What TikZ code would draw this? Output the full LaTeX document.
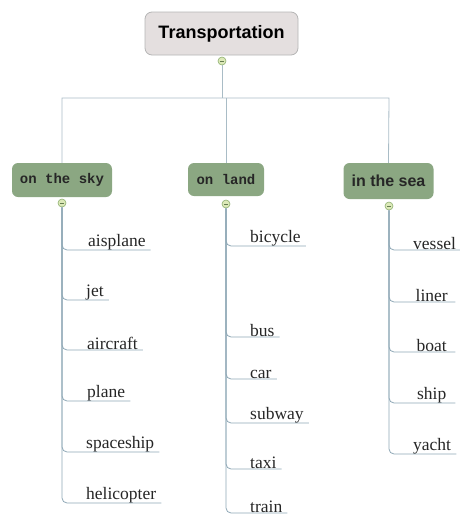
\documentclass[tikz,border=0pt]{standalone}
\usepackage{fontspec}
\setmainfont{Liberation Serif}
\newfontfamily\rootfont{Liberation Sans}
\newfontfamily\monofont{Liberation Mono}
\definecolor{rootfill}{HTML}{E4DFDF}
\definecolor{rootdraw}{HTML}{B5B5B5}
\definecolor{greenfill}{HTML}{8BA782}
\definecolor{linecol}{HTML}{A9BCC6}
\definecolor{ulcol}{HTML}{8FA8B6}
\definecolor{knobfill}{HTML}{DCE9B8}
\definecolor{knobdraw}{HTML}{8FB072}
\tikzset{
  rootbox/.style={draw=rootdraw, fill=rootfill, rounded corners=7pt, line width=0.8pt,
    minimum width=153pt, minimum height=43pt, font=\rootfont\bfseries\fontsize{18}{21}\selectfont, inner sep=0pt},
  catbox/.style={fill=greenfill, rounded corners=6pt, inner sep=0pt, text=black!85},
  monocat/.style={catbox, font=\monofont\bfseries\fontsize{14}{16}\selectfont},
  sanscat/.style={catbox, font=\rootfont\bfseries\fontsize{16}{18}\selectfont},
  knob/.style={circle, draw=knobdraw, fill=knobfill, line width=0.6pt, minimum size=8pt, inner sep=0pt,
    path picture={\draw[knobdraw!70!black, line width=0.8pt] ([xshift=-2pt]path picture bounding box.center) -- ([xshift=2pt]path picture bounding box.center);}},
  leaf/.style={anchor=south west, inner xsep=5pt, inner ysep=0pt, font=\fontsize{17.5}{20}\selectfont, text=black!85},
  conn/.style={draw=linecol, line width=0.8pt},
  branch/.style={draw=ulcol, line width=0.8pt, rounded corners=5pt},
}
\begin{document}
\begin{tikzpicture}[x=1pt,y=-1pt]
\useasboundingbox (0,0) rectangle (460,515);
% root
\node[rootbox] (root) at (221.5,33.5) {Transportation};
\node[knob] (kr) at (222,61) {};
% categories
\node[monocat, minimum width=100pt, minimum height=34pt] (sky) at (62,180) {on the sky};
\node[monocat, minimum width=76pt, minimum height=33pt] (land) at (226,179.5) {on land};
\node[sanscat, minimum width=90pt, minimum height=36pt] (sea) at (388.5,181) {in the sea};
\node[knob] (ks) at (62,203) {};
\node[knob] (kl) at (226,204) {};
\node[knob] (ke) at (389,206) {};
\coordinate (hl) at (62,98);
\coordinate (hm) at (222,98);
\coordinate (hr) at (389,98);
\draw[conn] (kr.south) -- (hm);
\draw[conn] (sky.north) -- (hl) -- (hr) -- (sea.north);
\draw[conn] (226,98) -- (land.north);
% sky leaves
\node[leaf] (s1) at (83,250) {aisplane};
\node[leaf] (s2) at (81,300) {jet};
\node[leaf] (s3) at (82,350) {aircraft};
\node[leaf] (s4) at (82,401) {plane};
\node[leaf] (s5) at (81,452) {spaceship};
\node[leaf] (s6) at (81,503) {helicopter};
\foreach \n in {s1,s2,s3,s4,s5,s6} \draw[branch] (ks.south) |- (\n.south east);
% land leaves
\node[leaf] (l1) at (245,246) {bicycle};
\node[leaf] (l2) at (245,337) {bus};
\node[leaf] (l3) at (245,379) {car};
\node[leaf] (l4) at (245,423) {subway};
\node[leaf] (l5) at (245,469) {taxi};
\node[leaf] (l6) at (245,513) {train};
\foreach \n in {l1,l2,l3,l4,l5,l6} \draw[branch] (kl.south) |- (\n.south east);
% sea leaves
\node[leaf, minimum width=47pt] (e1) at (408,250) {vessel};
\node[leaf, minimum width=47pt] (e2) at (408,302) {liner};
\node[leaf, minimum width=47pt] (e3) at (408,352) {boat};
\node[leaf, minimum width=47pt] (e4) at (408,403) {ship};
\node[leaf, minimum width=47pt] (e5) at (408,454) {yacht};
\foreach \n in {e1,e2,e3,e4,e5} \draw[branch] (ke.south) |- (\n.south east);
\end{tikzpicture}
\end{document}
